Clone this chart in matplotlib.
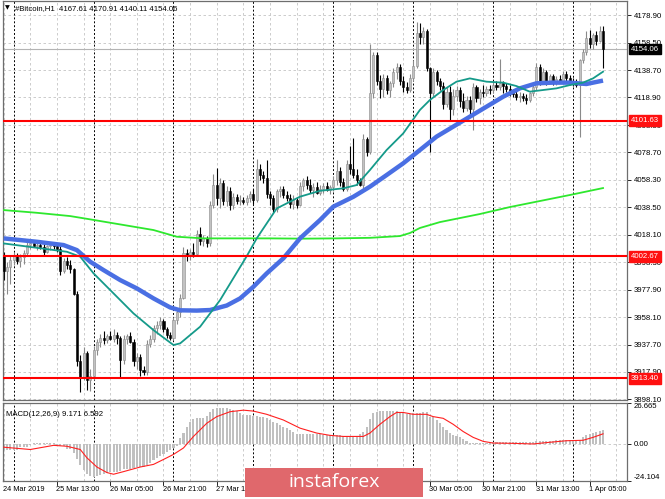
import matplotlib
matplotlib.use("Agg")
import matplotlib.pyplot as plt
import matplotlib.transforms as mtransforms
from matplotlib.patches import Rectangle
import numpy as np

plt.rcParams["font.family"] = ["Liberation Sans", "DejaVu Sans"]

# hourly candles, #Bitcoin H1, 24 Mar 21:00 .. 1 Apr 09:00
opens = [4003, 3992, 3995, 4000, 4003, 3999, 4002, 4005, 4011, 4012, 4010, 4011, 4009, 4006, 4010, 4011,
         4010, 4008, 3992, 3999, 3996, 3993, 3975, 3926, 3914, 3932, 3912, 3915, 3934, 3940, 3943, 3941,
         3944, 3942, 3945, 3943, 3927, 3942, 3944, 3940, 3926, 3929, 3919, 3918, 3938, 3942, 3950, 3952,
         3955, 3949, 3945, 3943, 3956, 3962, 3972, 4005, 4003, 4006, 4004, 4019, 4014, 4016, 4012, 4040,
         4055, 4045, 4056, 4043, 4050, 4040, 4046, 4043, 4044, 4042, 4045, 4048, 4044, 4066, 4062, 4060,
         4048, 4045, 4037, 4050, 4052, 4047, 4045, 4041, 4044, 4040, 4054, 4058, 4055, 4051, 4053, 4049,
         4052, 4054, 4051, 4053, 4058, 4065, 4057, 4052, 4070, 4066, 4062, 4058, 4055, 4088, 4079, 4122,
         4150, 4131, 4125, 4133, 4124, 4129, 4137, 4141, 4131, 4126, 4124, 4133, 4142, 4166, 4163, 4167,
         4140, 4122, 4137, 4131, 4127, 4114, 4123, 4110, 4120, 4124, 4116, 4111, 4117, 4110, 4126, 4118,
         4123, 4122, 4125, 4124, 4128, 4126, 4129, 4127, 4125, 4122, 4121, 4119, 4120, 4118, 4117, 4122,
         4126, 4141, 4130, 4137, 4131, 4134, 4130, 4132, 4131, 4136, 4133, 4130, 4129, 4128, 4146, 4152,
         4162, 4158, 4164, 4160, 4167.61]
highs = [4006, 3998, 4003, 4006, 4005, 4004, 4007, 4013, 4015, 4014, 4013, 4014, 4012, 4011, 4013, 4013,
         4012, 4010, 4001, 4002, 4000, 3994, 3977, 3930, 3936, 3933, 3920, 3937, 3942, 3946, 3948, 3946,
         3948, 3949, 3947, 3944, 3945, 3946, 3947, 3942, 3932, 3931, 3922, 3941, 3945, 3952, 3955, 3958,
         3957, 3951, 3947, 3958, 3963, 3975, 4009, 4008, 4008, 4012, 4022, 4024, 4018, 4017, 4043, 4063,
         4067, 4060, 4058, 4054, 4053, 4049, 4048, 4047, 4046, 4047, 4050, 4052, 4074, 4070, 4065, 4073,
         4050, 4047, 4052, 4054, 4054, 4050, 4048, 4047, 4046, 4057, 4060, 4061, 4059, 4056, 4057, 4055,
         4056, 4057, 4055, 4061, 4073, 4068, 4060, 4073, 4083, 4089, 4066, 4060, 4092, 4090, 4158, 4152,
         4152, 4135, 4136, 4135, 4131, 4140, 4144, 4143, 4134, 4130, 4136, 4146, 4174, 4173, 4170, 4169,
         4141, 4140, 4139, 4133, 4130, 4126, 4127, 4125, 4127, 4126, 4122, 4120, 4120, 4129, 4128, 4125,
         4128, 4127, 4128, 4130, 4131, 4147, 4131, 4129, 4128, 4125, 4124, 4123, 4122, 4121, 4123, 4128,
         4144, 4143, 4140, 4139, 4136, 4136, 4134, 4135, 4138, 4138, 4135, 4133, 4132, 4147, 4154, 4167,
         4168, 4166, 4167, 4171, 4170.91]
lows = [3985, 3975, 3982, 3996, 3997, 3995, 3997, 4003, 4008, 4009, 4007, 4008, 4003, 4005, 4007, 4008,
        4006, 3989, 3990, 3993, 3990, 3974, 3922, 3903, 3912, 3905, 3904, 3912, 3930, 3936, 3938, 3939,
        3941, 3940, 3938, 3914, 3924, 3938, 3939, 3922, 3920, 3915, 3916, 3916, 3936, 3940, 3946, 3949,
        3947, 3943, 3941, 3941, 3953, 3958, 3971, 3999, 4000, 4002, 4003, 4011, 4010, 4009, 4010, 4038,
        4040, 4038, 4040, 4039, 4036, 4037, 4041, 4040, 4041, 4040, 4042, 4041, 4042, 4058, 4056, 4045,
        4040, 4035, 4035, 4046, 4045, 4043, 4038, 4037, 4038, 4039, 4050, 4052, 4049, 4046, 4048, 4047,
        4049, 4050, 4048, 4050, 4055, 4054, 4050, 4050, 4063, 4060, 4055, 4054, 4052, 4076, 4077, 4118,
        4128, 4118, 4119, 4121, 4119, 4126, 4132, 4128, 4123, 4122, 4123, 4131, 4140, 4158, 4158, 4138,
        4079, 4120, 4128, 4124, 4110, 4112, 4102, 4106, 4116, 4112, 4108, 4109, 4106, 4095, 4115, 4114,
        4119, 4120, 4121, 4122, 4124, 4124, 4122, 4123, 4120, 4119, 4117, 4115, 4116, 4114, 4115, 4120,
        4124, 4128, 4129, 4128, 4129, 4128, 4128, 4129, 4130, 4131, 4128, 4127, 4126, 4090, 4144, 4150,
        4155, 4154, 4157, 4159, 4140.11]
closes = [3992, 3995, 4000, 4003, 3999, 4002, 4005, 4011, 4012, 4010, 4011, 4009, 4006, 4010, 4011, 4010,
          4008, 3992, 3999, 3996, 3993, 3975, 3926, 3914, 3932, 3912, 3915, 3934, 3940, 3943, 3941, 3944,
          3942, 3945, 3943, 3927, 3942, 3944, 3940, 3926, 3929, 3919, 3918, 3938, 3942, 3950, 3952, 3955,
          3949, 3945, 3943, 3956, 3962, 3972, 4005, 4003, 4006, 4004, 4019, 4014, 4016, 4012, 4040, 4055,
          4045, 4056, 4043, 4050, 4040, 4046, 4043, 4044, 4042, 4045, 4048, 4044, 4066, 4062, 4060, 4048,
          4045, 4037, 4050, 4052, 4047, 4045, 4041, 4044, 4040, 4054, 4058, 4055, 4051, 4053, 4049, 4052,
          4054, 4051, 4053, 4058, 4065, 4057, 4052, 4070, 4066, 4062, 4058, 4055, 4088, 4079, 4122, 4150,
          4131, 4125, 4133, 4124, 4129, 4137, 4141, 4131, 4126, 4124, 4133, 4142, 4166, 4163, 4167, 4140,
          4122, 4137, 4131, 4127, 4114, 4123, 4110, 4120, 4124, 4116, 4111, 4117, 4110, 4126, 4118, 4123,
          4122, 4125, 4124, 4128, 4126, 4129, 4127, 4125, 4122, 4121, 4119, 4120, 4118, 4117, 4122, 4126,
          4141, 4130, 4137, 4131, 4134, 4130, 4132, 4131, 4136, 4133, 4130, 4129, 4128, 4146, 4152, 4162,
          4158, 4164, 4160, 4167.61, 4154.06]

# moving averages read at sample bars
blue_idx = [0, 10, 18, 22, 26, 30, 35, 40, 45, 50, 53, 58, 62, 67, 71, 75, 79, 84, 89, 95, 99, 105, 110,
            115, 120, 125, 130, 135, 140, 145, 150, 155, 160, 165, 170, 175, 180]
blue_val = [4015.6, 4013.1, 4010.7, 4007, 3998.5, 3992.4, 3985.1, 3979, 3971.7, 3965.1, 3963, 3962.8,
            3963.2, 3966.5, 3971.7, 3980.2, 3990, 4001, 4015.6, 4029, 4038.8, 4046, 4053.4, 4061.9,
            4070.5, 4080.2, 4090, 4097.3, 4104.6, 4111.9, 4119.2, 4125.3, 4129, 4129.5, 4129.5, 4128.5, 4131]
teal_idx = [0, 19, 23, 27, 32, 39, 45, 51, 53, 59, 65, 73, 76, 82, 89, 95, 102, 106, 110, 115, 120, 125,
            128, 132, 136, 140, 145, 150, 154, 158, 162, 166, 170, 174, 177, 180]
teal_val = [4011.9, 4005.8, 4002.2, 3990, 3977.8, 3960.7, 3948.5, 3937.6, 3938.8, 3951, 3970.5, 4002.6,
            4015.6, 4037.5, 4046.1, 4050.4, 4052.2, 4054.6, 4065.6, 4080.2, 4092.4, 4109.5, 4116.8, 4124.1,
            4130.2, 4132.6, 4130.2, 4129.5, 4127, 4122.9, 4124.1, 4125.3, 4127.7, 4129.5, 4132.6, 4137.5]
green_idx = [0, 10, 20, 26, 35, 45, 52, 60, 70, 80, 90, 100, 110, 119, 122, 125, 131, 143, 152, 161, 170, 180]
green_val = [4036.3, 4034.3, 4031.9, 4029.5, 4025.8, 4021.7, 4016.8, 4015.6, 4015.6, 4015.6, 4015.4, 4015.6,
             4016, 4017.3, 4019.5, 4023.2, 4027.5, 4033.4, 4038.5, 4042.9, 4047.3, 4052.4]

levels = [4101.63, 4002.67, 3913.40]
last_price = 4154.06
price_ticks = [4178.90, 4158.50, 4138.70, 4118.90, 4098.50, 4078.70, 4058.30, 4038.50, 4018.10,
               3998.30, 3977.90, 3958.10, 3937.70, 3917.90, 3898.10]

# MACD(12,26,9)
macd_hist = [-3.9, -3.9, -3.9, -3.9, -3.9, -2.1, -2.1, -2.1, -0.4, 0.4, 0.4, 0.4, 0.4, 0.4, 0.4, 0.4,
             -1.5, -1.5, -1.5, -3.6, -3.6, -5.8, -10.1, -13.7, -17.1, -19.7, -21, -21.4, -21, -20.1, -19.3,
             -18.8, -18, -18, -18, -17.5, -16.5, -16.5, -16.5, -15.8, -15, -15, -15, -13.7, -12.2, -10.7,
             -9, -7.9, -6.4, -5.1, -3.9, -2.6, -1.5, 3.9, 7.1, 11.3, 14.6, 16.3, 16.7, 17.1, 17.1, 18.4,
             21, 22.7, 23.1, 23.1, 23.1, 23.1, 22.7, 22, 21.4, 19.9, 18.8, 18.8, 18.8, 18.4, 18.4, 17.8,
             17.8, 16.7, 15.6, 14.1, 13.5, 12.4, 11.3, 10.3, 9.2, 8.1, 6.4, 6.4, 6.4, 6.4, 6.4, 6.4, 6.4,
             6.4, 5.6, 5.6, 5.6, 5.6, 5.6, 5.6, 5.1, 5.1, 5.1, 5.1, 5.1, 6.4, 8.1, 11.3, 16.3, 19.9, 21,
             21.4, 21.4, 21.4, 21.4, 21.4, 21.4, 21, 21, 19.3, 19.3, 19.9, 19.9, 19.9, 21, 21, 17.8, 17.8,
             15.6, 13.5, 11.3, 9.2, 7.1, 6, 4.9, 4.3, 3.2, 1.7, 0.6, 0.4, 0.4, 0.4, 0.4, 0.4, 1.3, 1.3,
             1.3, 1.3, 1.3, 1.3, 1.3, 1.3, 1.3, 1.3, 1.3, 1.3, 1.3, 1.3, 1.9, 1.9, 1.9, 1.9, 1.9, 1.9,
             2.4, 2.4, 2.4, 2.4, 2.4, 2.4, 2.4, 2.4, 4.3, 5.6, 6.4, 7.1, 7.7, 8.6, 9.171]
sig_idx = [0, 8, 15, 19, 23, 25, 28, 31, 33, 36, 41, 45, 49, 51, 54, 57, 61, 64, 68, 72, 75, 79, 84, 89,
           94, 98, 102, 108, 110, 113, 116, 118, 120, 123, 127, 129, 132, 135, 138, 141, 144, 147, 153,
           159, 164, 169, 174, 177, 180]
sig_val = [-2.1, -3.6, -0.9, -1.5, -3.6, -9, -15, -18.6, -19.7, -18, -15, -13.3, -9, -6.8, -2.6, 4.9, 13.5,
           17.8, 21, 22, 21.4, 19.3, 15.6, 10.3, 7.1, 5.6, 4.9, 4.9, 7.1, 12.8, 17.8, 20.5, 20.5, 19.3,
           19.3, 17.8, 16.7, 12.8, 8.1, 4.3, 1.7, 0.6, 0.4, 0, 1.1, 2.1, 2.4, 4.3, 6.592]

# time axis labels that are visible (the others sit under the banner)
time_idx = [0, 16, 32, 48, 64, 128, 144, 160, 176]
time_lab = ["24 Mar 2019", "25 Mar 13:00", "26 Mar 05:00", "26 Mar 21:00", "27 Mar 13:00",
            "30 Mar 05:00", "30 Mar 21:00", "31 Mar 13:00", "1 Apr 05:00"]
tick_idx = [16, 32, 48, 64, 80, 96, 112, 128, 144, 160, 176]
midnights = [3, 27, 51, 75, 99, 123, 147, 171]

W, H = 665, 499
fig = plt.figure(figsize=(W / 100, H / 100), dpi=100)
fig.patch.set_facecolor("white")
ax = fig.add_axes([3 / W, (H - 400) / H, 624 / W, 399 / H])
mx = fig.add_axes([3 / W, (H - 481) / H, 624 / W, 78 / H])

o = np.array(opens, float)
h = np.array(highs, float)
l = np.array(lows, float)
c = np.array(closes, float)
x = np.arange(len(c))
up = c >= o
XMAX = 187.2

for a in (ax, mx):
    a.set_xlim(-0.2, XMAX)
    a.set_xticks([])
    for g in range(0, 188, 8):
        a.axvline(g, color="#c4c4c4", lw=0.6, ls=(0, (3, 3)), zorder=0)
    for m in midnights:
        a.axvline(m, color="black", lw=0.7, ls=(0, (2, 2)), zorder=0.5)
    for s in a.spines.values():
        s.set_color("#6e6e6e")
        s.set_linewidth(0.9)

# price panel
ax.set_ylim(3897.4, 4189.2)
for p in price_ticks:
    ax.axhline(p, color="#c4c4c4", lw=0.6, ls=(0, (3, 3)), zorder=0)

wick_col = np.where(up, "#8a8a8a", "black")
ax.vlines(x, l, h, colors=wick_col, lw=0.8, zorder=2)
body_bot = np.minimum(o, c)
body_h = np.maximum(np.abs(c - o), 0.5)
ax.bar(x, body_h, bottom=body_bot, width=0.62,
       color=np.where(up, "#c2c2c2", "black"),
       edgecolor=np.where(up, "#8a8a8a", "black"), linewidth=0.4, zorder=3)

ax.plot(green_idx, green_val, color="#2ee82e", lw=1.3, zorder=4)
ax.plot(blue_idx, blue_val, color="#4a6fe3", lw=3.2, solid_capstyle="butt", solid_joinstyle="round", zorder=4)
ax.plot(teal_idx, teal_val, color="#159a8a", lw=1.3, zorder=5)

ax.axhline(last_price, color="#b4b4b4", lw=0.8, zorder=1)
for lv in levels:
    ax.axhline(lv, color="#ff0000", lw=1.5, zorder=6)

ax.yaxis.tick_right()
ax.set_yticks(price_ticks)
ax.set_yticklabels([f"{p:.2f}" for p in price_ticks])
ax.tick_params(axis="y", labelsize=5.6, length=3, width=0.6, pad=2, colors="black")

tr = mtransforms.blended_transform_factory(ax.transAxes, ax.transData)
ax.text(1.0065, last_price, f"{last_price:.2f}", transform=tr, fontsize=5.6, color="white",
        va="center", ha="left", clip_on=False, zorder=10,
        bbox=dict(boxstyle="square,pad=0.25", fc="black", ec="black"))
for lv in levels:
    ax.text(1.0065, lv, f"{lv:.2f}", transform=tr, fontsize=5.6, color="white",
            va="center", ha="left", clip_on=False, zorder=10,
            bbox=dict(boxstyle="square,pad=0.25", fc="#ff1010", ec="#ff1010"))

ax.text(0.003, 0.982, "\u25bc", transform=ax.transAxes, fontsize=4.5, va="center", ha="left",
        family=["DejaVu Sans"])
ax.text(0.02, 0.982, "#Bitcoin,H1  4167.61 4170.91 4140.11 4154.06", transform=ax.transAxes,
        fontsize=5.6, va="center", ha="left")

# MACD panel
mx.set_ylim(-24.104, 26.665)
mx.axhline(0, color="#c4c4c4", lw=0.6, ls=(0, (3, 3)), zorder=0)
mx.bar(x, macd_hist, width=0.62, color="#c0c0c0", zorder=2)
mx.plot(sig_idx, sig_val, color="#ff2020", lw=0.8, zorder=3)
mx.yaxis.tick_right()
mx.set_yticks([26.665, 0, -24.104])
mx.set_yticklabels(["26.665", "0.00", "-24.104"])
mx.tick_params(axis="y", labelsize=5.6, length=3, width=0.6, pad=2, colors="black")
tl = mx.get_yticklabels()
tl[0].set_va("top")
tl[2].set_va("bottom")
mx.text(0.005, 0.85, "MACD(12,26,9) 9.171 6.592", transform=mx.transAxes, fontsize=5.6,
        va="center", ha="left")

trx = mtransforms.blended_transform_factory(mx.transData, mx.transAxes)
for i in tick_idx:
    mx.plot([i, i], [0, -0.045], transform=trx, color="black", lw=0.6, clip_on=False)
for i, lab in zip(time_idx, time_lab):
    mx.text(i - 0.2, -0.06, lab, transform=trx, fontsize=5.3, va="top", ha="left", clip_on=False)

# watermark banner
fig.patches.append(Rectangle((245 / W, (H - 497) / H), 178 / W, 29 / H, transform=fig.transFigure,
                             facecolor="#e0686c", edgecolor="none", zorder=20))
fig.text(334 / W, 1 - 482 / H, "instaforex", color="white", fontsize=14, ha="center", va="center",
         family=["Open Sans", "DejaVu Sans"], zorder=21)

fig.savefig("out.png", dpi=100, facecolor="white")
